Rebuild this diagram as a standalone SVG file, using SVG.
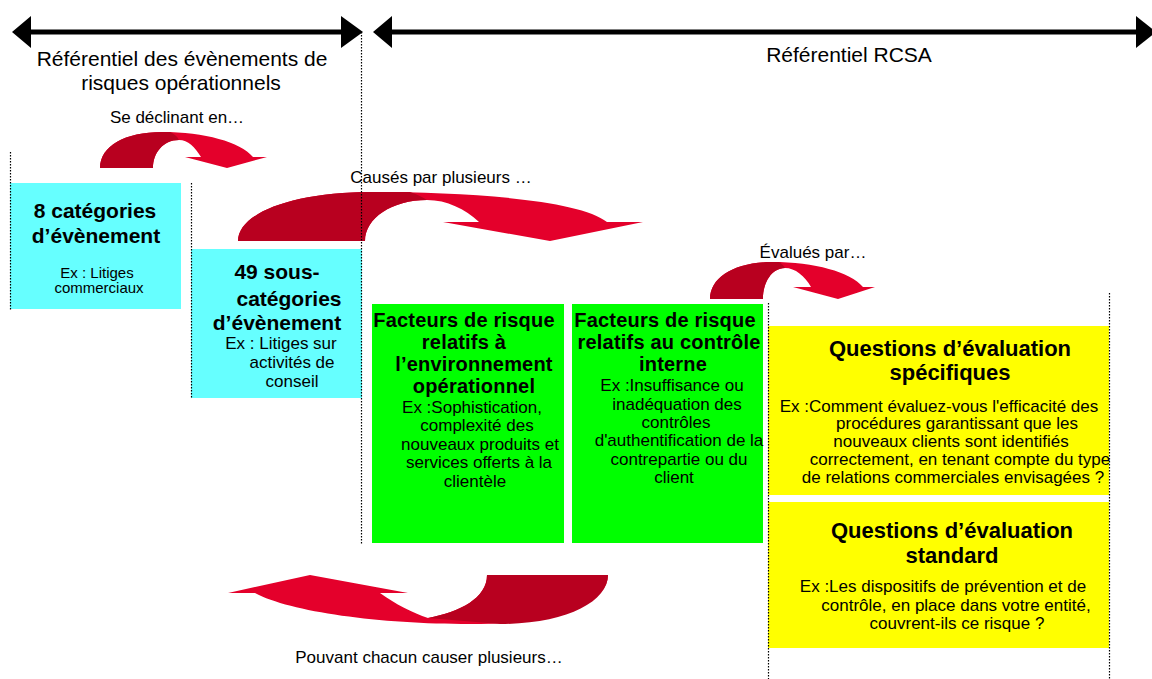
<svg xmlns="http://www.w3.org/2000/svg" width="1152" height="679" viewBox="0 0 1152 679">
<style>
.t{font-family:"Liberation Sans",Arial,Helvetica,sans-serif;fill:#000;text-anchor:middle}
.h{font-size:21px}
.lb{font-size:17px}
.b{font-size:21px;font-weight:bold}
.bg{font-size:20px;font-weight:bold;letter-spacing:0.2px}
.b2{font-size:22px;font-weight:bold}
.r15{font-size:15px}
.r17{font-size:17px}
.cy{fill:#66FFFF}
.gr{fill:#00FF00}
.ye{fill:#FFFF00}
.red{fill:#E4002B}
.dk{fill:#B8001F}
.guide{stroke:#000;stroke-width:1.2;stroke-dasharray:1.5 1.5;fill:none}
.span{stroke:#000;stroke-width:5;fill:none}
.head{fill:#000}
</style>

<g id="spans">
  <line class="span" x1="28" y1="32" x2="345" y2="32"/>
  <polygon class="head" points="12,32 31,16 31,48"/>
  <polygon class="head" points="363,32 341,16 341,48"/>
  <line class="span" x1="390" y1="32" x2="1140" y2="32"/>
  <polygon class="head" points="373,32 392,16 392,48"/>
  <polygon class="head" points="1156,32 1136,16 1136,48"/>
</g>

<g id="headers">
  <text class="t h" x="182" y="66">Référentiel des évènements de</text>
  <text class="t h" x="181" y="90">risques opérationnels</text>
  <text class="t h" x="849" y="62">Référentiel RCSA</text>
</g>

<g id="node-categories">
  <rect class="cy" x="10" y="183" width="171" height="126"/>
  <text class="t b" x="95" y="218">8 catégories</text>
  <text class="t b" x="96" y="243">d’évènement</text>
  <text class="t r15" x="97" y="278">Ex : Litiges</text>
  <text class="t r15" x="99" y="293">commerciaux</text>
</g>

<g id="node-sous-categories">
  <rect class="cy" x="191" y="249" width="171" height="149"/>
  <text class="t b" x="277" y="279">49 sous-</text>
  <text class="t b" x="289" y="306">catégories</text>
  <text class="t b" x="277" y="330">d’évènement</text>
  <text class="t r17" x="281" y="349">Ex : Litiges sur</text>
  <text class="t r17" x="292" y="368">activités de</text>
  <text class="t r17" x="292" y="387">conseil</text>
</g>

<g id="node-facteurs-env">
  <rect class="gr" x="372" y="304" width="192" height="239"/>
  <text class="t bg" x="464" y="327">Facteurs de risque</text>
  <text class="t bg" x="464" y="349">relatifs à</text>
  <text class="t bg" x="474" y="371">l’environnement</text>
  <text class="t bg" x="474" y="393">opérationnel</text>
  <text class="t r17" x="472" y="413">Ex :Sophistication,</text>
  <text class="t r17" x="477" y="431">complexité des</text>
  <text class="t r17" x="480" y="450">nouveaux produits et</text>
  <text class="t r17" x="479" y="468">services offerts à la</text>
  <text class="t r17" x="475" y="487">clientèle</text>
</g>

<g id="node-facteurs-ci">
  <rect class="gr" x="572" y="304" width="191" height="239"/>
  <text class="t bg" x="665" y="327">Facteurs de risque</text>
  <text class="t bg" x="669" y="349">relatifs au contrôle</text>
  <text class="t bg" x="673" y="371">interne</text>
  <text class="t r17" x="672" y="391">Ex :Insuffisance ou</text>
  <text class="t r17" x="677" y="410">inadéquation des</text>
  <text class="t r17" x="676" y="428">contrôles</text>
  <text class="t r17" x="679" y="446">d'authentification de la</text>
  <text class="t r17" x="679" y="465">contrepartie ou du</text>
  <text class="t r17" x="674" y="483">client</text>
</g>

<g id="node-questions-specifiques">
  <rect class="ye" x="768" y="326" width="341" height="169"/>
  <text class="t b2" x="950" y="356">Questions d’évaluation</text>
  <text class="t b2" x="950" y="380">spécifiques</text>
  <text class="t r17" x="939" y="412">Ex :Comment évaluez-vous l'efficacité des</text>
  <text class="t r17" x="957" y="429">procédures garantissant que les</text>
  <text class="t r17" x="951" y="447">nouveaux clients sont identifiés</text>
  <text class="t r17" x="960" y="465">correctement, en tenant compte du type</text>
  <text class="t r17" x="953" y="483">de relations commerciales envisagées ?</text>
</g>

<g id="node-questions-standard">
  <rect class="ye" x="768" y="502" width="341" height="146"/>
  <text class="t b2" x="952" y="538">Questions d’évaluation</text>
  <text class="t b2" x="952" y="563">standard</text>
  <text class="t r17" x="943" y="592">Ex :Les dispositifs de prévention et de</text>
  <text class="t r17" x="956" y="611">contrôle, en place dans votre entité,</text>
  <text class="t r17" x="957" y="629">couvrent-ils ce risque ?</text>
</g>

<g id="connectors">
  <g id="arrow-declinant">
    <path class="red" d="M100,168 C100,146 125,132 162,132 C205,132 240,142 253,157 L267,157 L227,168 L185,157 L201,157 C195,147 188,140 179,140 C163,140 153,153 153,168 Z"/>
    <path class="dk" d="M100,168 C100,146 125,132 162,132 L170,132 C174,134 177,136 179,140 C163,140 153,153 153,168 Z"/>
  </g>
  <g id="arrow-causes">
    <path class="red" d="M238,241 C238,214 290,192 372,192 C470,192 580,200 607,222 L643,222 L550,241 L443,222 L479,222 C465,209 447,200 427,200 C392,200 365,218 365,241 Z"/>
    <path class="dk" d="M238,241 C238,214 290,192 372,192 L410,192 C417,194 422,197 427,200 C392,200 365,218 365,241 Z"/>
  </g>
  <g id="arrow-evalues">
    <path class="red" d="M710,299 C710,277 735,262 772,262 C815,262 850,272 863,287 L875,287 L838,299 L793,287 L811,287 C805,276 795,268 785,268 C772,268 763,282 763,299 Z"/>
    <path class="dk" d="M710,299 C710,277 735,262 772,262 L779,262 C782,264 784,266 785,268 C772,268 763,282 763,299 Z"/>
  </g>
  <g id="arrow-pouvant">
    <path class="red" d="M608,575 C608,602 560,624 470,624 C380,624 290,612 255,593 L228,593 L310,575 L408,593 L380,593 C395,604 413,613 428,618 C460,612 487,598 487,575 Z"/>
    <path class="dk" d="M487,575 L608,575 C608,602 565,624 500,624 L428,618 C460,612 487,598 487,575 Z"/>
  </g>
  <text class="t lb" x="177" y="123">Se déclinant en…</text>
  <text class="t lb" x="441" y="183">Causés par plusieurs …</text>
  <text class="t lb" x="813" y="258">Évalués par…</text>
  <text class="t lb" x="429" y="663">Pouvant chacun causer plusieurs…</text>
</g>

<g id="guides">
  <line class="guide" x1="10.5" y1="152" x2="10.5" y2="310"/>
  <line class="guide" x1="191.5" y1="183" x2="191.5" y2="398"/>
  <line class="guide" x1="361.5" y1="32" x2="361.5" y2="545"/>
  <line class="guide" x1="768.5" y1="303" x2="768.5" y2="679"/>
  <line class="guide" x1="1109.5" y1="293" x2="1109.5" y2="679"/>
</g>
</svg>
